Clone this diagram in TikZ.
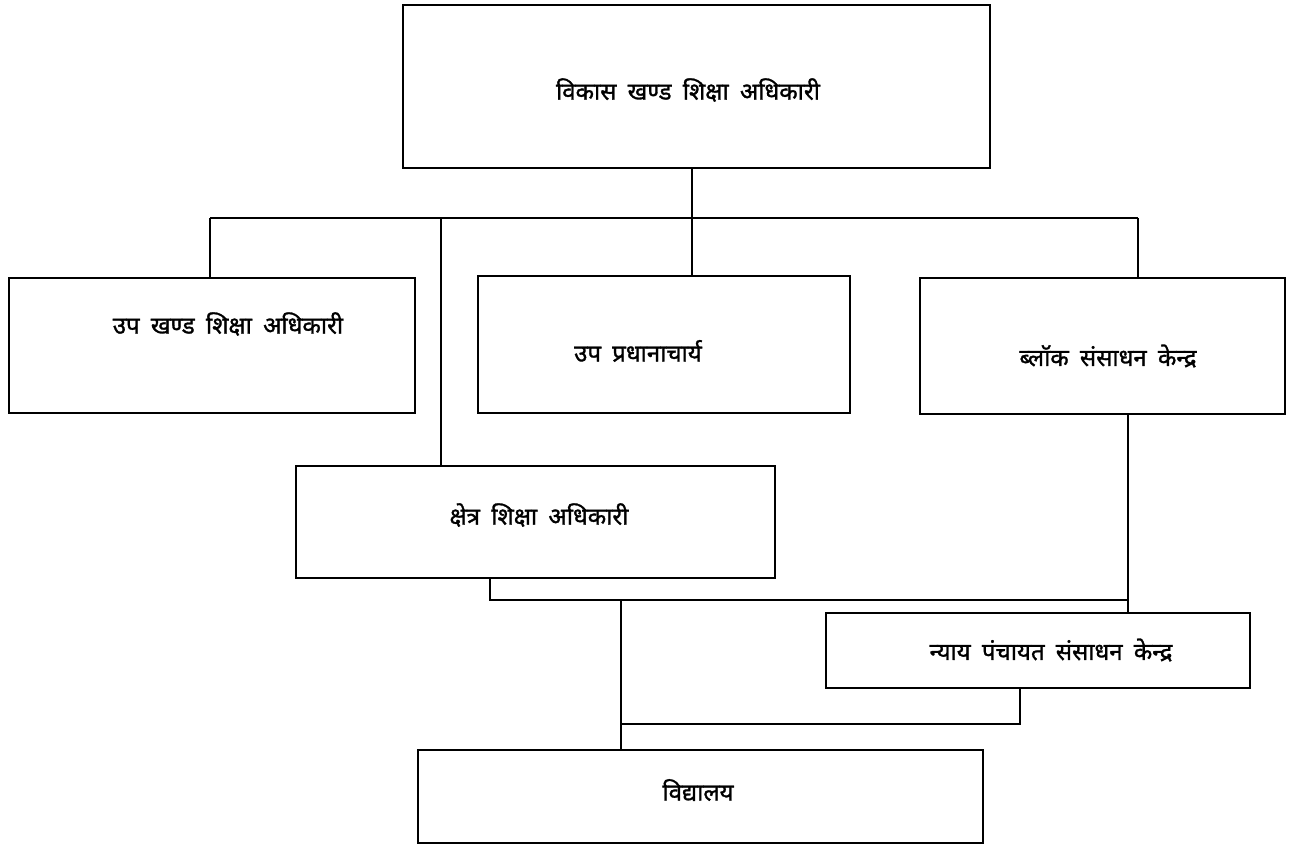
\documentclass[tikz,border=0pt]{standalone}
\usepackage{fontspec}
\newfontfamily\deva[Script=Devanagari,WordSpace=1.8,FakeBold=1.2]{Noto Sans}
\begin{document}
\begin{tikzpicture}[x=1pt,y=-1pt,
  box/.style={draw=black,line width=1.8pt,rectangle,anchor=north west,inner sep=0pt,outer sep=0pt},
  lbl/.style={font=\deva\fontsize{24}{28}\selectfont,inner sep=0pt,anchor=center},
  conn/.style={draw=black,line width=1.6pt}]
\useasboundingbox (0,0) rectangle (1304,845);
% boxes
\node[box,minimum width=587pt,minimum height=163pt] (top) at (403,5) {};
\node[box,minimum width=406pt,minimum height=135pt] (b1) at (9,278) {};
\node[box,minimum width=372pt,minimum height=137pt] (b2) at (478,276) {};
\node[box,minimum width=365pt,minimum height=136pt] (b3) at (920,278) {};
\node[box,minimum width=479pt,minimum height=112pt] (b4) at (296,466) {};
\node[box,minimum width=424pt,minimum height=75pt] (b5) at (826,613) {};
\node[box,minimum width=565pt,minimum height=93pt] (b6) at (418,750) {};
% labels
\node[lbl] (t0) at (688,90) {विकास खण्ड शिक्षा अधिकारी};
\node[lbl] (t1) at (228,324) {उप खण्ड शिक्षा अधिकारी};
\node[lbl] (t2) at (638,351) {उप प्रधानाचार्य};
\node[lbl] (t3) at (1108,356) {ब्लॉक संसाधन केन्द्र};
\node[lbl] (t4) at (539,515) {क्षेत्र शिक्षा अधिकारी};
\node[lbl] (t5) at (1051,650) {न्याय पंचायत संसाधन केन्द्र};
\node[lbl] (t6) at (698,790) {विद्यालय};
% junction coordinates
\coordinate (h0) at (692,218);
\coordinate (hl) at (210,218);
\coordinate (hr) at (1138,218);
\coordinate (h4) at (441,218);
\coordinate (m1) at (490,600);
\coordinate (m2) at (1128,600);
\coordinate (m3) at (621,600);
\coordinate (n1) at (621,724);
\coordinate (n2) at (1020,724);
% connectors
\draw[conn] (top.south -| h0) -- (h0);
\draw[conn] (hl) -- (hr);
\draw[conn] (hl) -- (hl |- b1.north);
\draw[conn] (h4) -- (h4 |- b4.north);
\draw[conn] (h0) -- (h0 |- b2.north);
\draw[conn] (hr) -- (hr |- b3.north);
\draw[conn] (m2 |- b3.south) -- (m2 |- b5.north);
\draw[conn] (m1 |- b4.south) -- (m1) -- (m2);
\draw[conn] (m3) -- (m3 |- b6.north);
\draw[conn] (n1) -- (n2) -- (n2 |- b5.south);
\end{tikzpicture}
\end{document}
